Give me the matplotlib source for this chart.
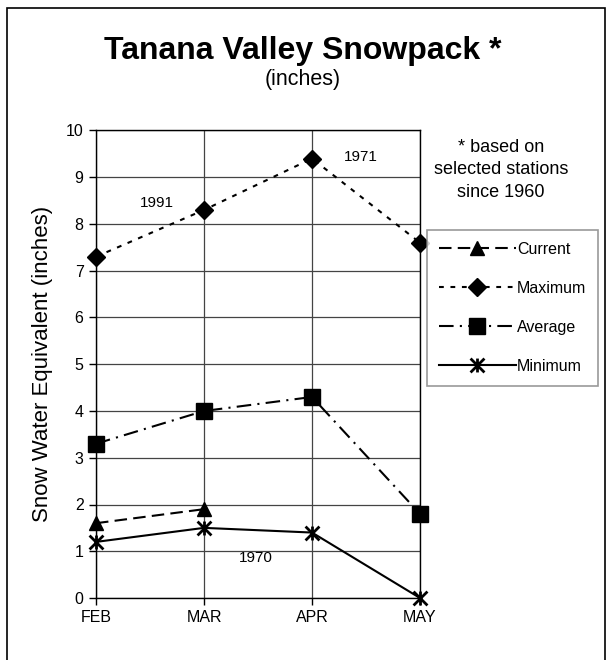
import numpy as np
import matplotlib
matplotlib.use('Agg')
import matplotlib.pyplot as plt
from matplotlib.path import Path
from matplotlib.patches import Rectangle

plt.rcParams['font.family'] = ['Liberation Sans', 'DejaVu Sans']

months = ['FEB', 'MAR', 'APR', 'MAY']
current = [1.6, 1.9]
maximum = [7.3, 8.3, 9.4, 7.6]
average = [3.3, 4.0, 4.3, 1.8]
minimum = [1.2, 1.5, 1.4, 0.0]
year_notes = [('1991', 0.56, 8.45), ('1971', 2.45, 9.43), ('1970', 1.48, 0.86)]

# excel-style star marker: an X with a vertical stroke
star = Path([(-1, -1), (1, 1), (-1, 1), (1, -1), (0, -1), (0, 1)],
            [Path.MOVETO, Path.LINETO, Path.MOVETO, Path.LINETO, Path.MOVETO, Path.LINETO])

fig = plt.figure(figsize=(6.06, 6.6), dpi=100)
ax = fig.add_axes([96/606, 1 - 598/660, 324/606, 467.5/660])

x = np.arange(len(months))
lw = 1.5
ax.plot(x[:len(current)], current, color='black', lw=lw, linestyle=(0, (6, 3)),
        marker='^', ms=10, label='Current', clip_on=False, zorder=3)
ax.plot(x, maximum, color='black', lw=lw, linestyle=(0, (2.3, 3.2)),
        marker='D', ms=9, label='Maximum', clip_on=False, zorder=3)
ax.plot(x, average, color='black', lw=lw, linestyle=(0, (7, 3, 1, 3)),
        marker='s', ms=11, label='Average', clip_on=False, zorder=3)
ax.plot(x, minimum, color='black', lw=lw, linestyle='-',
        marker=star, ms=10, mew=2, label='Minimum', clip_on=False, zorder=3)

for txt, tx, ty in year_notes:
    ax.text(tx, ty, txt, fontsize=11, ha='center', va='center')

ax.set_xlim(0, len(months) - 1)
ax.set_ylim(0, 10)
ax.set_xticks(x)
ax.set_xticklabels(months)
ax.set_yticks(range(0, 11))
ax.tick_params(labelsize=11.5, length=5, width=1, pad=4)
ax.grid(True, color='#444444', lw=0.9)
for s in ax.spines.values():
    s.set_color('black')
    s.set_linewidth(1)
ax.set_ylabel('Snow Water Equivalent (inches)', fontsize=16, labelpad=9)

fig.text(0.5, 1 - 59/660, 'Tanana Valley Snowpack *', fontsize=23, fontweight='bold',
         ha='center', va='baseline')
fig.text(0.5, 1 - 85/660, '(inches)', fontsize=15.5, ha='center', va='baseline')
fig.text(501/606, 1 - 170/660, '* based on\nselected stations\nsince 1960', fontsize=13,
         ha='center', va='center', linespacing=1.45)

leg = fig.legend(loc='upper left', bbox_to_anchor=(427/606, 1 - 230/660), fontsize=11.5,
                 numpoints=1, handlelength=4.8, handletextpad=0.1, labelspacing=1.5,
                 borderpad=0.75, borderaxespad=0, frameon=True, fancybox=False)
leg.get_frame().set_edgecolor('#808080')
leg.get_frame().set_linewidth(1.2)

fig.add_artist(Rectangle((7/606, -0.1), 598/606, 1.1 - 8/660, transform=fig.transFigure,
                         fill=False, edgecolor='black', lw=1.2))

fig.savefig('out.png', dpi=100)
